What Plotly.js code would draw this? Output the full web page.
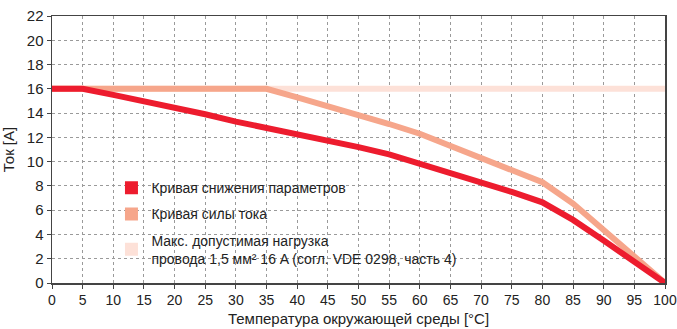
<!DOCTYPE html>
<html><head><meta charset="utf-8">
<script src="https://cdn.plot.ly/plotly-3.0.1.min.js"></script>
<style>html,body{margin:0;padding:0;background:#fff}#chart{width:677px;height:329px}</style>
</head><body><div id="chart"></div>
<script>
const temps = [0, 5, 10, 15, 20, 25, 30, 35, 40, 45, 50, 55, 60, 65, 70, 75, 80, 85, 90, 95, 100];
const derating = [16, 16, 15.5, 15.0, 14.4, 13.9, 13.3, 12.8, 12.25, 11.75, 11.2, 10.6, 9.85, 9.05, 8.25, 7.5, 6.65, 5.2, 3.5, 1.75, 0];
const current = [16, 16, 16, 16, 16, 16, 16, 16, 15.3, 14.6, 13.9, 13.1, 12.3, 11.3, 10.35, 9.35, 8.3, 6.55, 4.4, 2.2, 0];
const maxLoad = [16, 16, 16, 16, 16, 16, 16, 16, 16, 16, 16, 16, 16, 16, 16, 16, 16, 16, 16, 16, 16];
const names = ['Кривая снижения параметров', 'Кривая силы тока', 'Макс. допустимая нагрузка<br>провода 1,5 мм² 16 A (согл. VDE 0298, часть 4)'];
const colors = ['#ed1c2e', '#f6a68b', '#fde1d8'];
const xTitle = 'Температура окружающей среды [°C]';
const yTitle = 'Ток [A]';

const font = "'Liberation Sans Narrow', 'Arial Narrow', 'Liberation Sans', sans-serif";
const traces = [
  {x: temps, y: maxLoad, mode: 'lines', line: {color: colors[2], width: 6}, showlegend: false, hoverinfo: 'skip'},
  {x: temps, y: current, mode: 'lines', line: {color: colors[1], width: 6}, showlegend: false, hoverinfo: 'skip'},
  {x: temps, y: derating, mode: 'lines', line: {color: colors[0], width: 6}, showlegend: false, hoverinfo: 'skip'}
];
names.forEach((n, i) => traces.push({x: [null], y: [null], mode: 'markers', name: n, legendgroup: 'g' + i,
  marker: {symbol: 'square', size: 13, color: colors[i]}}));

const axisCommon = {
  showline: true, linecolor: '#444', linewidth: 1.5, mirror: true,
  ticks: 'outside', ticklen: 4, tickcolor: '#444',
  showgrid: true, gridcolor: '#9a9a9a', griddash: 'dot', gridwidth: 1,
  zeroline: false, tickfont: {family: font, size: 15, color: '#222'}
};
// white backing boxes behind the legend text (hide grid, stay under the curves)
const boxes = [[0.1106, 0.4846, 0.3146, 0.3895], [0.1106, 0.3626, 0.2285, 0.3034], [0.1106, 0.6423, 0.0449, 0.2097]];
const shapes = boxes.map(b => ({type: 'rect', xref: 'paper', yref: 'paper', x0: b[0], x1: b[1], y0: b[2], y1: b[3],
  fillcolor: '#fff', line: {width: 0}, layer: 'between'}));
const layout = {
  width: 677, height: 329,
  margin: {l: 52, r: 12, t: 16, b: 46},
  paper_bgcolor: '#fff', plot_bgcolor: '#fff',
  font: {family: font, color: '#222'},
  xaxis: Object.assign({}, axisCommon, {range: [0, 100], dtick: 5, tick0: 0, ticklabeloverflow: 'allow',
    tickfont: {family: font, size: 14, color: '#222'},
    title: {text: xTitle, font: {family: font, size: 15, color: '#222'}, standoff: 6}}),
  yaxis: Object.assign({}, axisCommon, {range: [0, 22], dtick: 2, tick0: 0,
    title: {text: yTitle, font: {family: font, size: 15, color: '#222'}, standoff: 8}}),
  shapes: shapes,
  legend: {x: 0.097, y: 0.415, xanchor: 'left', yanchor: 'top', bgcolor: 'rgba(255,255,255,0)',
    font: {family: font, size: 14, color: '#222'}, traceorder: 'grouped', tracegroupgap: 5,
    itemwidth: 30},
  showlegend: true
};
Plotly.newPlot('chart', traces, layout, {staticPlot: true, displayModeBar: false});
</script></body></html>
